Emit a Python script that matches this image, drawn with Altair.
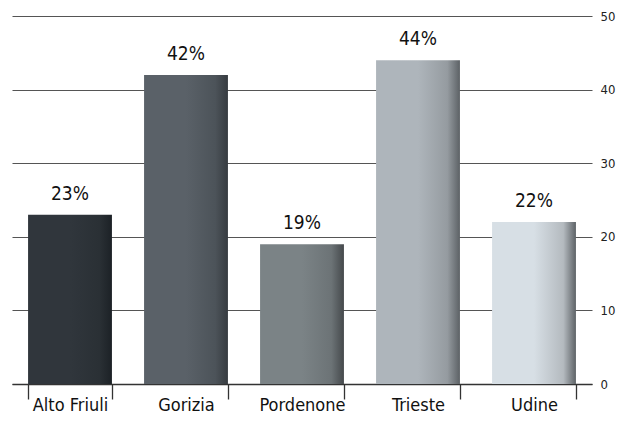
import altair as alt
import pandas as pd

regions = ["Alto Friuli", "Gorizia", "Pordenone", "Trieste", "Udine"]
values = [23, 42, 19, 44, 22]
labels = ["23%", "42%", "19%", "44%", "22%"]
base_colors = ["#30363c", "#5a6168", "#7b8386", "#aeb5bb", "#d7dfe5"]
mid_colors = ["#2a3035", "#4c5359", "#6c7376", "#959ba0", "#b4babf"]
dark_colors = ["#1c2126", "#363b40", "#45494c", "#5c6165", "#5e6367"]

df = pd.DataFrame({"region": regions, "value": values, "label": labels})

FONT = "DejaVu Sans Condensed, sans-serif"

x_scale = alt.Scale(domain=regions, paddingInner=0.277, paddingOuter=0.1385)
y_scale = alt.Scale(domain=[0, 50], nice=False)

x_enc = alt.X(
    "region:N",
    scale=x_scale,
    sort=regions,
    axis=alt.Axis(
        title=None,
        labelAngle=0,
        labelFont=FONT,
        labelFontSize=18,
        labelColor="#111111",
        labelBaseline="alphabetic",
        labelPadding=11,
        tickBand="extent",
        tickSize=15,
        tickColor="#333333",
        tickWidth=1.3,
        domainColor="#333333",
        domainWidth=1.5,
        grid=False,
    ),
)
y_enc = alt.Y(
    "value:Q",
    scale=y_scale,
    axis=alt.Axis(
        orient="right",
        title=None,
        values=[0, 10, 20, 30, 40, 50],
        labelFont=FONT,
        labelFontSize=13,
        labelColor="#222222",
        labelPadding=8,
        ticks=False,
        domain=False,
        grid=True,
        gridColor="#555555",
        gridWidth=1.2,
    ),
)

layers = []
for i, r in enumerate(regions):
    grad = alt.Gradient(
        gradient="linear",
        stops=[
            alt.GradientStop(color=base_colors[i], offset=0),
            alt.GradientStop(color=base_colors[i], offset=0.5),
            alt.GradientStop(color=mid_colors[i], offset=0.85),
            alt.GradientStop(color=dark_colors[i], offset=1),
        ],
        x1=0, x2=1, y1=0, y2=0,
    )
    layers.append(
        alt.Chart(df)
        .transform_filter(alt.datum.region == r)
        .mark_bar(color=grad)
        .encode(x=x_enc, y=y_enc)
    )

text = (
    alt.Chart(df)
    .mark_text(font=FONT, fontSize=19, color="#111111", baseline="bottom", dy=-11)
    .encode(x=x_enc, y=y_enc, text="label:N")
)

chart = (
    alt.layer(*layers, text)
    .properties(
        width=580,
        height=368,
        padding={"left": 4, "top": 8, "right": 25, "bottom": 31},
        autosize=alt.AutoSizeParams(type="none"),
    )
    .configure_view(stroke=None)
)

chart.save("out.html", embed_options={"renderer": "svg", "actions": False})
